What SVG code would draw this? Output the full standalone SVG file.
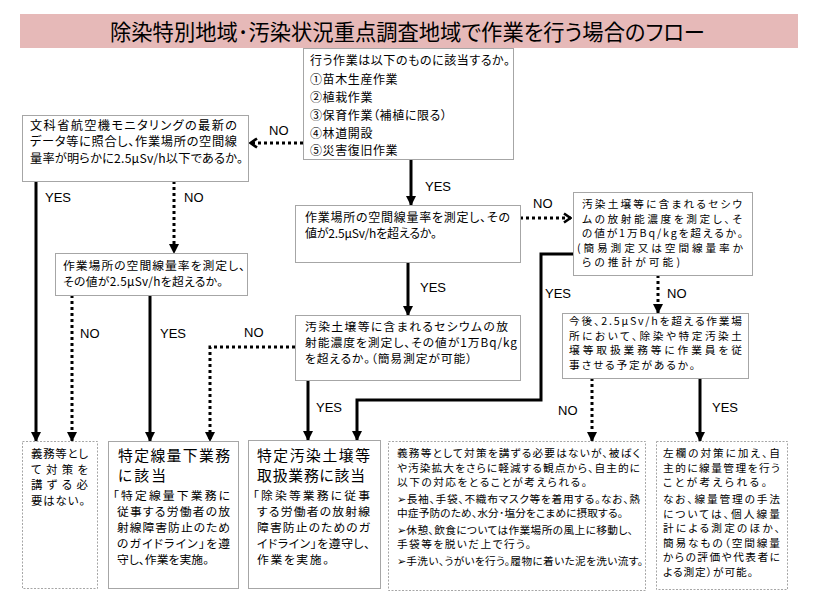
<svg xmlns="http://www.w3.org/2000/svg" width="816" height="607" viewBox="0 0 816 607">
<style>
.box{fill:#fff;stroke:#a6a6a6;stroke-width:1}
.dbox{fill:#fff;stroke:#a6a6a6;stroke-width:1;stroke-dasharray:2 1.5}
.t{font-family:"Noto Sans CJK JP","Noto Sans CJK SC",sans-serif;fill:#000;font-feature-settings:"palt"}
.lbl{font-family:"Liberation Sans",Arial,sans-serif;font-size:13px;fill:#000}
.sol{stroke:#000;stroke-width:3;fill:none}
.dot{stroke:#000;stroke-width:3;stroke-dasharray:3 3;fill:none}
</style>
<defs>
<marker id="tri" viewBox="0 0 10 10" refX="9" refY="5" markerWidth="10" markerHeight="10" markerUnits="userSpaceOnUse" orient="auto"><path d="M0,0 L10,5 L0,10 z" fill="#000"/></marker>
<marker id="chev" viewBox="0 0 10 12" refX="9" refY="6" markerWidth="10" markerHeight="12" markerUnits="userSpaceOnUse" orient="auto"><path d="M2,1.5 L8.5,6 L2,10.5" fill="none" stroke="#000" stroke-width="2.6"/></marker>
</defs>
<rect width="816" height="607" fill="#fff"/>
<g id="title">
<rect x="20" y="14" width="778" height="34" fill="#e6b9b8"/>
<text class="t" x="110" y="39.5" font-size="22" textLength="595" lengthAdjust="spacingAndGlyphs" fill="#111">除染特別地域･汚染状況重点調査地域で作業を行う場合のフロー</text>
</g>
<g id="connectors">
<line class="sol" x1="411" y1="160" x2="411" y2="205" marker-end="url(#tri)"/>
<line class="dot" x1="303" y1="143" x2="250" y2="143" marker-end="url(#chev)"/>
<line class="sol" x1="36" y1="181" x2="36" y2="441" marker-end="url(#tri)"/>
<line class="dot" x1="174" y1="181" x2="174" y2="253" marker-end="url(#tri)"/>
<line class="dot" x1="72" y1="295" x2="72" y2="441" marker-end="url(#tri)"/>
<line class="sol" x1="150" y1="295" x2="150" y2="441" marker-end="url(#tri)"/>
<line class="dot" x1="520" y1="218" x2="571" y2="218" marker-end="url(#chev)"/>
<line class="sol" x1="408" y1="262" x2="408" y2="315" marker-end="url(#tri)"/>
<polyline class="sol" points="573,254 541,254 541,400 357,400 357,440" marker-end="url(#tri)"/>
<line class="dot" x1="658" y1="275" x2="658" y2="313" marker-end="url(#tri)"/>
<polyline class="dot" points="295,347 210,347 210,441" marker-end="url(#tri)"/>
<line class="sol" x1="308" y1="380" x2="308" y2="440" marker-end="url(#tri)"/>
<line class="dot" x1="592" y1="378" x2="592" y2="441" marker-end="url(#tri)"/>
<line class="sol" x1="700" y1="378" x2="700" y2="441" marker-end="url(#tri)"/>
<text class="lbl" x="425" y="190.6">YES</text>
<text class="lbl" x="269" y="134.6">NO</text>
<text class="lbl" x="45" y="201.6">YES</text>
<text class="lbl" x="184" y="201.6">NO</text>
<text class="lbl" x="80" y="337.6">NO</text>
<text class="lbl" x="160" y="337.6">YES</text>
<text class="lbl" x="533" y="207.6">NO</text>
<text class="lbl" x="420" y="291.6">YES</text>
<text class="lbl" x="545" y="297.6">YES</text>
<text class="lbl" x="667" y="297.6">NO</text>
<text class="lbl" x="244" y="336.6">NO</text>
<text class="lbl" x="316" y="411.6">YES</text>
<text class="lbl" x="558" y="414.6">NO</text>
<text class="lbl" x="712" y="411.6">YES</text>
</g>
<g id="n-top">
<rect class="box" x="303.5" y="48.5" width="210" height="111"/>
<text class="t" font-size="12" x="310" y="64.6" textLength="200">行う作業は以下のものに該当するか。</text>
<text class="t" font-size="12" letter-spacing="0.6"><tspan x="310" y="83.6">①苗木生産作業</tspan><tspan x="310" y="101.8">②植栽作業</tspan><tspan x="310" y="120">③保育作業（補植に限る）</tspan><tspan x="310" y="137.6">④林道開設</tspan><tspan x="310" y="155">⑤災害復旧作業</tspan></text>
</g>
<g id="n-monitor">
<rect class="box" x="22.5" y="115.5" width="226" height="66"/>
<text class="t" font-size="12.2"><tspan x="30" y="129.6" textLength="207">文科省航空機モニタリングの最新の</tspan><tspan x="30" y="146.1" textLength="207">データ等に照合し、作業場所の空間線</tspan><tspan x="30" y="162.6" textLength="213">量率が明らかに2.5μSv/h以下であるか。</tspan></text>
</g>
<g id="n-measure1">
<rect class="box" x="295.5" y="205.5" width="225" height="57"/>
<text class="t" font-size="12"><tspan x="305" y="222.1" textLength="205">作業場所の空間線量率を測定し、その</tspan><tspan x="305" y="238.3" textLength="132">値が2.5μSv/hを超えるか。</tspan></text>
</g>
<g id="n-measure2">
<rect class="box" x="55.5" y="253.5" width="192" height="42"/>
<text class="t" font-size="11.8"><tspan x="63" y="269.5" textLength="182">作業場所の空間線量率を測定し、</tspan><tspan x="63" y="285.5" textLength="160">その値が2.5μSv/hを超えるか。</tspan></text>
</g>
<g id="n-cesium1">
<rect class="box" x="295.5" y="315.5" width="225" height="65"/>
<text class="t" font-size="11.8"><tspan x="305" y="330.5" textLength="203">汚染土壌等に含まれるセシウムの放</tspan><tspan x="305" y="346.5" textLength="212">射能濃度を測定し、その値が1万Bq/kg</tspan><tspan x="305" y="362.5" textLength="167">を超えるか。（簡易測定が可能）</tspan></text>
</g>
<g id="n-cesium2">
<rect class="box" x="573.5" y="192.5" width="179" height="83"/>
<text class="t" font-size="10.7"><tspan x="582" y="208.1" textLength="160">汚染土壌等に含まれるセシウ</tspan><tspan x="582" y="222.6" textLength="160">ムの放射能濃度を測定し、そ</tspan><tspan x="582" y="237.1" textLength="161">の値が1万Bq/kgを超えるか。</tspan><tspan x="577" y="251.6" textLength="166">(簡易測定又は空間線量率か</tspan><tspan x="582" y="266.1" textLength="98">らの推計が可能)</tspan></text>
</g>
<g id="n-plan">
<rect class="box" x="562.5" y="313.5" width="186" height="65"/>
<text class="t" font-size="10.7"><tspan x="569" y="325.1" textLength="173">今後、2.5μSv/hを超える作業場</tspan><tspan x="569" y="339.6" textLength="173">所において、除染や特定汚染土</tspan><tspan x="569" y="354.1" textLength="173">壌等取扱業務等に作業員を従</tspan><tspan x="569" y="368.6" textLength="126">事させる予定があるか。</tspan></text>
</g>
<g id="n-none">
<rect class="dbox" x="22.5" y="441.5" width="75" height="147"/>
<text class="t" font-size="11.4"><tspan x="31" y="458.3" textLength="57">義務等とし</tspan><tspan x="31" y="473.8" textLength="57">て対策を</tspan><tspan x="31" y="489.3" textLength="57">講ずる必</tspan><tspan x="31" y="504.8" textLength="54">要はない。</tspan></text>
</g>
<g id="n-lowdose">
<rect class="box" x="108.5" y="441.5" width="130" height="147"/>
<text class="t" font-size="14.8"><tspan x="118" y="460.6" textLength="112">特定線量下業務</tspan><tspan x="118" y="480.6" textLength="48">に該当</tspan></text>
<text class="t" font-size="11.8"><tspan x="113" y="499.5" textLength="117">「特定線量下業務に</tspan><tspan x="117" y="515.5" textLength="113">従事する労働者の放</tspan><tspan x="117" y="531.5" textLength="113">射線障害防止のため</tspan><tspan x="117" y="547.5" textLength="113">のガイドライン」を遵</tspan><tspan x="117" y="563.5" textLength="92">守し、作業を実施。</tspan></text>
</g>
<g id="n-soil">
<rect class="box" x="248.5" y="440.5" width="132" height="148"/>
<text class="t" font-size="14.8"><tspan x="257" y="460.6" textLength="113">特定汚染土壌等</tspan><tspan x="257" y="480.6" textLength="108">取扱業務に該当</tspan></text>
<text class="t" font-size="11.8"><tspan x="253" y="499.5" textLength="117">「除染等業務に従事</tspan><tspan x="257" y="515.5" textLength="113">する労働者の放射線</tspan><tspan x="257" y="531.5" textLength="113">障害防止のためのガ</tspan><tspan x="257" y="547.5" textLength="113">イドライン」を遵守し、</tspan><tspan x="257" y="563.5" textLength="72">作業を実施。</tspan></text>
</g>
<g id="n-voluntary">
<rect class="dbox" x="388.5" y="441.5" width="257" height="149"/>
<text class="t" font-size="10.7"><tspan x="397" y="457.1" textLength="243">義務等として対策を講ずる必要はないが、被ばく</tspan><tspan x="397" y="471.6" textLength="243">や汚染拡大をさらに軽減する観点から、自主的に</tspan><tspan x="397" y="486.1" textLength="190">以下の対応をとることが考えられる。</tspan></text>
<text class="t" font-size="10.7"><tspan x="397" y="502.6" textLength="243">➢長袖、手袋、不織布マスク等を着用する。なお、熱</tspan><tspan x="397" y="517.1" textLength="226">中症予防のため、水分･塩分をこまめに摂取する。</tspan></text>
<text class="t" font-size="10.7"><tspan x="397" y="533.6" textLength="236">➢休憩、飲食については作業場所の風上に移動し、</tspan><tspan x="397" y="548.1" textLength="134">手袋等を脱いだ上で行う。</tspan></text>
<text class="t" font-size="10.7" x="397" y="564.6" textLength="246">➢手洗い、うがいを行う。履物に着いた泥を洗い流す。</text>
</g>
<g id="n-dose">
<rect class="dbox" x="656.5" y="441.5" width="131" height="148"/>
<text class="t" font-size="10.7"><tspan x="663" y="457.1" textLength="117">左欄の対策に加え、自</tspan><tspan x="663" y="471.6" textLength="117">主的に線量管理を行う</tspan><tspan x="663" y="486.1" textLength="104">ことが考えられる。</tspan></text>
<text class="t" font-size="10.7"><tspan x="663" y="503.1" textLength="117">なお、線量管理の手法</tspan><tspan x="663" y="517.6" textLength="117">については、個人線量</tspan><tspan x="663" y="532.1" textLength="117">計による測定のほか、</tspan><tspan x="663" y="546.6" textLength="117">簡易なもの（空間線量</tspan><tspan x="663" y="561.1" textLength="117">からの評価や代表者に</tspan><tspan x="663" y="575.6" textLength="90">よる測定）が可能。</tspan></text>
</g>
</svg>
